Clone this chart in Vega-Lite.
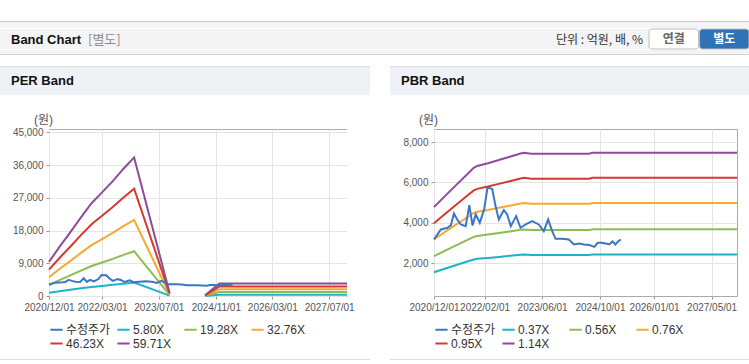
{
"$schema": "https://vega.github.io/schema/vega-lite/v6.json",
"background": "#ffffff",
"padding": {"top": 21, "left": 0, "right": 0, "bottom": 0},
"config": {
  "view": {"stroke": null},
  "font": "Liberation Sans, Noto Sans CJK KR",
  "axis": {"labelFont": "Liberation Sans", "labelFontSize": 10, "labelColor": "#555555", "gridColor": "#e4e4e4", "domain": false, "tickColor": "#999999", "tickSize": 3, "labelPadding": 3},
  "legend": {"symbolType": "stroke", "symbolStrokeWidth": 3, "symbolSize": 150, "labelFontSize": 12, "labelColor": "#333333", "labelFont": "Liberation Sans, Noto Sans CJK KR", "gridAlign": "all", "columnPadding": 2, "rowPadding": 0, "labelOffset": 2},
  "line": {"strokeWidth": 2}
},
"datasets": {
  "price": [
    {"d":"2020-12-01","v":3175},{"d":"2021-01-28","v":3670},{"d":"2021-03-25","v":3750},{"d":"2021-04-22","v":3870},{"d":"2021-05-18","v":4465},{"d":"2021-06-15","v":4165},{"d":"2021-07-15","v":3917},{"d":"2021-08-25","v":3834},{"d":"2021-09-25","v":4876},{"d":"2021-10-22","v":3866},{"d":"2021-11-18","v":4415},{"d":"2021-12-22","v":4000},{"d":"2022-01-28","v":4663},{"d":"2022-02-25","v":5734},{"d":"2022-04-06","v":5685},{"d":"2022-05-04","v":4827},{"d":"2022-06-01","v":4165},{"d":"2022-07-13","v":4630},{"d":"2022-08-10","v":4415},{"d":"2022-09-10","v":3834},{"d":"2022-10-25","v":4331},{"d":"2022-12-01","v":3751},{"d":"2023-01-13","v":3917},{"d":"2023-03-10","v":4083},{"d":"2023-05-04","v":3917},{"d":"2023-06-15","v":3586},{"d":"2023-07-22","v":4165},{"d":"2023-08-25","v":3586},{"d":"2023-09-22","v":3205},{"d":"2023-11-15","v":3205},{"d":"2024-01-12","v":3175},{"d":"2024-02-25","v":2926},{"d":"2024-04-10","v":2977},{"d":"2024-05-20","v":2927},{"d":"2024-07-03","v":2894},{"d":"2024-08-15","v":2808},{"d":"2024-09-12","v":3007},{"d":"2024-10-10","v":3007},{"d":"2024-11-20","v":2977},{"d":"2024-12-18","v":2927},{"d":"2025-01-15","v":3075},{"d":"2025-02-08","v":2927},{"d":"2025-03-06","v":3091},{"d":"2025-03-25","v":3175}
  ],
  "per": [
    {"s":"5.80X","d":"2020-12-01","v":911},{"s":"5.80X","d":"2021-03-01","v":1311},{"s":"5.80X","d":"2021-06-01","v":1699},{"s":"5.80X","d":"2021-09-01","v":2100},{"s":"5.80X","d":"2021-12-01","v":2477},{"s":"5.80X","d":"2022-03-01","v":2767},{"s":"5.80X","d":"2022-06-01","v":3068},{"s":"5.80X","d":"2022-09-01","v":3399},{"s":"5.80X","d":"2022-12-01","v":3700},{"s":"5.80X","d":"2023-10-01","v":87},{"s":"5.80X","d":"2024-08-01","v":17,"g":2},{"s":"5.80X","d":"2024-12-01","v":331,"g":2},{"s":"5.80X","d":"2027-12-01","v":331,"g":2},
    {"s":"19.28X","d":"2020-12-01","v":3027},{"s":"19.28X","d":"2021-03-01","v":4357},{"s":"19.28X","d":"2021-06-01","v":5649},{"s":"19.28X","d":"2021-09-01","v":6979},{"s":"19.28X","d":"2021-12-01","v":8233},{"s":"19.28X","d":"2022-03-01","v":9197},{"s":"19.28X","d":"2022-06-01","v":10199},{"s":"19.28X","d":"2022-09-01","v":11298},{"s":"19.28X","d":"2022-12-01","v":12301},{"s":"19.28X","d":"2023-10-01","v":289},{"s":"19.28X","d":"2024-08-01","v":58,"g":2},{"s":"19.28X","d":"2024-12-01","v":1099,"g":2},{"s":"19.28X","d":"2027-12-01","v":1099,"g":2},
    {"s":"32.76X","d":"2020-12-01","v":5143},{"s":"32.76X","d":"2021-03-01","v":7404},{"s":"32.76X","d":"2021-06-01","v":9599},{"s":"32.76X","d":"2021-09-01","v":11859},{"s":"32.76X","d":"2021-12-01","v":13989},{"s":"32.76X","d":"2022-03-01","v":15627},{"s":"32.76X","d":"2022-06-01","v":17330},{"s":"32.76X","d":"2022-09-01","v":19197},{"s":"32.76X","d":"2022-12-01","v":20901},{"s":"32.76X","d":"2023-10-01","v":491},{"s":"32.76X","d":"2024-08-01","v":98,"g":2},{"s":"32.76X","d":"2024-12-01","v":1867,"g":2},{"s":"32.76X","d":"2027-12-01","v":1867,"g":2},
    {"s":"46.23X","d":"2020-12-01","v":7258},{"s":"46.23X","d":"2021-03-01","v":10448},{"s":"46.23X","d":"2021-06-01","v":13545},{"s":"46.23X","d":"2021-09-01","v":16735},{"s":"46.23X","d":"2021-12-01","v":19740},{"s":"46.23X","d":"2022-03-01","v":22052},{"s":"46.23X","d":"2022-06-01","v":24456},{"s":"46.23X","d":"2022-09-01","v":27091},{"s":"46.23X","d":"2022-12-01","v":29495},{"s":"46.23X","d":"2023-10-01","v":693},{"s":"46.23X","d":"2024-08-01","v":139,"g":2},{"s":"46.23X","d":"2024-12-01","v":2635,"g":2},{"s":"46.23X","d":"2027-12-01","v":2635,"g":2},
    {"s":"59.71X","d":"2020-12-01","v":9374},{"s":"59.71X","d":"2021-03-01","v":13494},{"s":"59.71X","d":"2021-06-01","v":17495},{"s":"59.71X","d":"2021-09-01","v":21615},{"s":"59.71X","d":"2021-12-01","v":25496},{"s":"59.71X","d":"2022-03-01","v":28482},{"s":"59.71X","d":"2022-06-01","v":31587},{"s":"59.71X","d":"2022-09-01","v":34990},{"s":"59.71X","d":"2022-12-01","v":38095},{"s":"59.71X","d":"2023-10-01","v":896},{"s":"59.71X","d":"2024-08-01","v":179,"g":2},{"s":"59.71X","d":"2024-12-01","v":3403,"g":2},{"s":"59.71X","d":"2027-12-01","v":3403,"g":2}
  ],
  "pbr": [
    {"s":"0.37X","d":"2020-12-01","v":1550},{"s":"0.37X","d":"2021-03-01","v":1723},{"s":"0.37X","d":"2021-06-01","v":1896},{"s":"0.37X","d":"2021-09-01","v":2068},{"s":"0.37X","d":"2021-11-01","v":2183},{"s":"0.37X","d":"2021-12-01","v":2213},{"s":"0.37X","d":"2022-03-01","v":2257},{"s":"0.37X","d":"2022-06-01","v":2309},{"s":"0.37X","d":"2022-09-01","v":2361},{"s":"0.37X","d":"2022-12-01","v":2412},{"s":"0.37X","d":"2023-01-01","v":2425},{"s":"0.37X","d":"2023-03-01","v":2409},{"s":"0.37X","d":"2024-07-01","v":2409},{"s":"0.37X","d":"2024-08-01","v":2427},{"s":"0.37X","d":"2027-12-01","v":2427},
    {"s":"0.56X","d":"2020-12-01","v":2346},{"s":"0.56X","d":"2021-03-01","v":2608},{"s":"0.56X","d":"2021-06-01","v":2870},{"s":"0.56X","d":"2021-09-01","v":3130},{"s":"0.56X","d":"2021-11-01","v":3304},{"s":"0.56X","d":"2021-12-01","v":3349},{"s":"0.56X","d":"2022-03-01","v":3416},{"s":"0.56X","d":"2022-06-01","v":3494},{"s":"0.56X","d":"2022-09-01","v":3573},{"s":"0.56X","d":"2022-12-01","v":3651},{"s":"0.56X","d":"2023-01-01","v":3671},{"s":"0.56X","d":"2023-03-01","v":3646},{"s":"0.56X","d":"2024-07-01","v":3646},{"s":"0.56X","d":"2024-08-01","v":3674},{"s":"0.56X","d":"2027-12-01","v":3674},
    {"s":"0.76X","d":"2020-12-01","v":3184},{"s":"0.76X","d":"2021-03-01","v":3540},{"s":"0.76X","d":"2021-06-01","v":3895},{"s":"0.76X","d":"2021-09-01","v":4248},{"s":"0.76X","d":"2021-11-01","v":4484},{"s":"0.76X","d":"2021-12-01","v":4545},{"s":"0.76X","d":"2022-03-01","v":4636},{"s":"0.76X","d":"2022-06-01","v":4742},{"s":"0.76X","d":"2022-09-01","v":4849},{"s":"0.76X","d":"2022-12-01","v":4955},{"s":"0.76X","d":"2023-01-01","v":4982},{"s":"0.76X","d":"2023-03-01","v":4948},{"s":"0.76X","d":"2024-07-01","v":4948},{"s":"0.76X","d":"2024-08-01","v":4986},{"s":"0.76X","d":"2027-12-01","v":4986},
    {"s":"0.95X","d":"2020-12-01","v":3981},{"s":"0.95X","d":"2021-03-01","v":4425},{"s":"0.95X","d":"2021-06-01","v":4869},{"s":"0.95X","d":"2021-09-01","v":5311},{"s":"0.95X","d":"2021-11-01","v":5605},{"s":"0.95X","d":"2021-12-01","v":5681},{"s":"0.95X","d":"2022-03-01","v":5795},{"s":"0.95X","d":"2022-06-01","v":5928},{"s":"0.95X","d":"2022-09-01","v":6061},{"s":"0.95X","d":"2022-12-01","v":6194},{"s":"0.95X","d":"2023-01-01","v":6227},{"s":"0.95X","d":"2023-03-01","v":6185},{"s":"0.95X","d":"2024-07-01","v":6185},{"s":"0.95X","d":"2024-08-01","v":6232},{"s":"0.95X","d":"2027-12-01","v":6232},
    {"s":"1.14X","d":"2020-12-01","v":4777},{"s":"1.14X","d":"2021-03-01","v":5310},{"s":"1.14X","d":"2021-06-01","v":5843},{"s":"1.14X","d":"2021-09-01","v":6373},{"s":"1.14X","d":"2021-11-01","v":6726},{"s":"1.14X","d":"2021-12-01","v":6817},{"s":"1.14X","d":"2022-03-01","v":6954},{"s":"1.14X","d":"2022-06-01","v":7114},{"s":"1.14X","d":"2022-09-01","v":7273},{"s":"1.14X","d":"2022-12-01","v":7433},{"s":"1.14X","d":"2023-01-01","v":7473},{"s":"1.14X","d":"2023-03-01","v":7421},{"s":"1.14X","d":"2024-07-01","v":7421},{"s":"1.14X","d":"2024-08-01","v":7478},{"s":"1.14X","d":"2027-12-01","v":7478}
  ]
},
"spacing": 0,
"bounds": "full",
"resolve": {"scale": {"x": "independent", "y": "independent", "color": "independent"}, "legend": {"color": "independent"}},
"vconcat": [
  {"width": 749, "height": 1, "data": {"values": []}, "mark": "point", "view": {"fill": "#c9c9c9"}},
  {"width": 749, "height": 6, "data": {"values": []}, "mark": "point", "view": {"fill": "#f4f4f4"}},
  {"hconcat": [
    {"width": 84, "height": 20, "data": {"values": []}, "mark": "point", "view": {"fill": "#f4f4f4"},
     "title": {"text": "Band Chart", "anchor": "start", "dx": 11, "offset": -18, "fontSize": 13, "fontWeight": "bold", "color": "#111111", "font": "Liberation Sans"}},
    {"width": 460, "height": 20, "data": {"values": []}, "mark": "point", "view": {"fill": "#f4f4f4"},
     "title": {"text": "[별도]", "anchor": "start", "dx": 4, "offset": -18, "fontSize": 13, "fontWeight": "normal", "color": "#8a8a8a", "font": "Noto Sans CJK KR"}},
    {"width": 105, "height": 20, "data": {"values": []}, "mark": "point", "view": {"fill": "#f4f4f4"},
     "title": {"text": "단위 : 억원, 배, %", "anchor": "end", "dx": -6, "offset": -18, "fontSize": 12, "fontWeight": "normal", "color": "#333333", "font": "Noto Sans CJK KR"}},
    {"width": 100, "height": 20, "view": {"fill": "#f4f4f4"},
     "data": {"values": [{"b": "연결"}, {"b": "별도"}]},
     "encoding": {"x": {"field": "b", "type": "nominal", "sort": null, "scale": {"domain": ["연결", "별도"], "paddingInner": 0.02, "paddingOuter": 0}, "axis": null}},
     "layer": [
       {"mark": {"type": "rect", "cornerRadius": 3, "stroke": "#bdbdbd", "strokeWidth": 1},
        "encoding": {"fill": {"field": "b", "type": "nominal", "scale": {"domain": ["연결", "별도"], "range": ["#ffffff", "#2e72b8"]}, "legend": null}}},
       {"mark": {"type": "text", "fontWeight": "bold", "fontSize": 12, "font": "Noto Sans CJK KR"},
        "encoding": {"text": {"field": "b"},
          "color": {"field": "b", "type": "nominal", "scale": {"domain": ["연결", "별도"], "range": ["#666666", "#ffffff"]}, "legend": null}}}
     ]}
  ], "spacing": 0, "bounds": "flush", "resolve": {"scale": {"x": "independent", "color": "independent", "fill": "independent"}}},
  {"width": 749, "height": 4, "data": {"values": []}, "mark": "point", "view": {"fill": "#f4f4f4"}},
  {"width": 749, "height": 1, "data": {"values": []}, "mark": "point", "view": {"fill": "#d2d2d2"}},
  {"width": 749, "height": 11, "data": {"values": []}, "mark": "point", "view": {"fill": "#ffffff"}},
  {"hconcat": [
    {"width": 370, "height": 1, "data": {"values": []}, "mark": "point", "view": {"fill": "#dddddd"}},
    {"width": 359, "height": 1, "data": {"values": []}, "mark": "point", "view": {"fill": "#dddddd"}}
  ], "spacing": 20, "bounds": "flush"},
  {"hconcat": [
    {"width": 370, "height": 28, "data": {"values": []}, "mark": "point", "view": {"fill": "#eef2f7"},
     "title": {"text": "PER Band", "anchor": "start", "dx": 11, "offset": -21, "fontSize": 13, "fontWeight": "bold", "color": "#111111", "font": "Liberation Sans"}},
    {"width": 359, "height": 28, "data": {"values": []}, "mark": "point", "view": {"fill": "#eef2f7"},
     "title": {"text": "PBR Band", "anchor": "start", "dx": 11, "offset": -21, "fontSize": 13, "fontWeight": "bold", "color": "#111111", "font": "Liberation Sans"}}
  ], "spacing": 20, "bounds": "flush"},
  {"width": 749, "height": 17, "data": {"values": []}, "mark": "point", "view": {"fill": "#ffffff"}},
  {"hconcat": [
    {"width": 49, "height": 167, "data": {"values": []}, "mark": "point", "view": {"fill": "#ffffff"}},
    {"width": 298, "height": 167, "view": {"stroke": "#aaaaaa"},
     "encoding": {
       "x": {"field": "d", "type": "temporal",
             "scale": {"type": "utc", "domain": [{"year": 2020, "month": 12, "date": 1, "utc": true}, {"year": 2027, "month": 12, "date": 1, "utc": true}]},
             "axis": {"title": null, "grid": true, "format": "%Y/%m/%d", "labelOverlap": false, "labelFlush": false,
                      "values": [{"year": 2020, "month": 12, "date": 1, "utc": true}, {"year": 2022, "month": 3, "date": 1, "utc": true}, {"year": 2023, "month": 7, "date": 1, "utc": true}, {"year": 2024, "month": 11, "date": 1, "utc": true}, {"year": 2026, "month": 3, "date": 1, "utc": true}, {"year": 2027, "month": 7, "date": 1, "utc": true}]}},
       "y": {"field": "v", "type": "quantitative", "scale": {"domain": [0, 45900], "nice": false, "zero": false},
             "axis": {"title": "(원)", "values": [0, 9000, 18000, 27000, 36000, 45000], "format": ",.0f", "grid": true, "labelOverlap": false,
                      "titleAngle": 0, "titleX": -6, "titleY": -10, "titleAlign": "center", "titleBaseline": "middle", "titleFontWeight": "normal", "titleFontSize": 12, "titleColor": "#555555", "titleFont": "Liberation Sans, Noto Sans CJK KR"}}
     },
     "layer": [
       {"data": {"name": "per"}, "mark": {"type": "line", "strokeWidth": 2},
        "encoding": {
          "color": {"field": "s", "type": "nominal",
                    "scale": {"domain": ["수정주가", "5.80X", "19.28X", "32.76X", "46.23X", "59.71X"], "range": ["#3a78c3", "#1cb3c8", "#8cbd50", "#f7a933", "#d33a2f", "#8e4b98"]},
                    "legend": {"title": null, "orient": "bottom", "direction": "horizontal", "columns": 4, "offset": 10}},
          "detail": {"field": "g"}}},
       {"data": {"name": "price"}, "mark": {"type": "line", "strokeWidth": 2},
        "encoding": {"color": {"datum": "수정주가", "type": "nominal"}}}
     ]},
    {"width": 87, "height": 167, "data": {"values": []}, "mark": "point", "view": {"fill": "#ffffff"}},
    {"width": 303, "height": 167, "view": {"stroke": "#aaaaaa"},
     "encoding": {
       "x": {"field": "d", "type": "temporal",
             "scale": {"type": "utc", "domain": [{"year": 2020, "month": 12, "date": 1, "utc": true}, {"year": 2027, "month": 12, "date": 1, "utc": true}]},
             "axis": {"title": null, "grid": true, "format": "%Y/%m/%d", "labelOverlap": false, "labelFlush": false,
                      "values": [{"year": 2020, "month": 12, "date": 1, "utc": true}, {"year": 2022, "month": 2, "date": 1, "utc": true}, {"year": 2023, "month": 6, "date": 1, "utc": true}, {"year": 2024, "month": 10, "date": 1, "utc": true}, {"year": 2026, "month": 1, "date": 1, "utc": true}, {"year": 2027, "month": 5, "date": 1, "utc": true}]}},
       "y": {"field": "v", "type": "quantitative", "scale": {"domain": [370, 8650], "nice": false, "zero": false},
             "axis": {"title": "(원)", "values": [2000, 4000, 6000, 8000], "format": ",.0f", "grid": true, "labelOverlap": false,
                      "titleAngle": 0, "titleX": -6, "titleY": -10, "titleAlign": "center", "titleBaseline": "middle", "titleFontWeight": "normal", "titleFontSize": 12, "titleColor": "#555555", "titleFont": "Liberation Sans, Noto Sans CJK KR"}}
     },
     "layer": [
       {"data": {"name": "pbr"}, "mark": {"type": "line", "strokeWidth": 2},
        "encoding": {
          "color": {"field": "s", "type": "nominal",
                    "scale": {"domain": ["수정주가", "0.37X", "0.56X", "0.76X", "0.95X", "1.14X"], "range": ["#3a78c3", "#1cb3c8", "#8cbd50", "#f7a933", "#d33a2f", "#8e4b98"]},
                    "legend": {"title": null, "orient": "bottom", "direction": "horizontal", "columns": 4, "offset": 10}}}},
       {"data": {"name": "price"}, "mark": {"type": "line", "strokeWidth": 2},
        "encoding": {"color": {"datum": "수정주가", "type": "nominal"}}}
     ]}
  ], "spacing": 0, "bounds": "flush", "resolve": {"scale": {"x": "independent", "y": "independent", "color": "independent"}, "legend": {"color": "independent"}}},
  {"width": 749, "height": 8, "data": {"values": []}, "mark": "point", "view": {"fill": "#ffffff"}},
  {"hconcat": [
    {"width": 370, "height": 1, "data": {"values": []}, "mark": "point", "view": {"fill": "#dddddd"}},
    {"width": 359, "height": 1, "data": {"values": []}, "mark": "point", "view": {"fill": "#dddddd"}}
  ], "spacing": 20, "bounds": "flush"}
]
}
